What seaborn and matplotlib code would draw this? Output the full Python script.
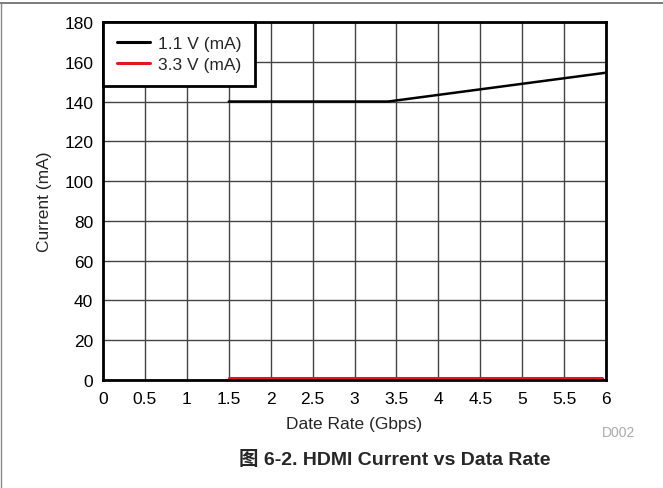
import numpy as np
import pandas as pd
import seaborn as sns
import matplotlib.pyplot as plt
from matplotlib.lines import Line2D

# Data
rate_11v = [1.5, 3.4, 6.0]
current_11v = [140, 140, 154.5]
rate_33v = [1.5, 5.95]
current_33v = [1, 1]
x_ticks = [0, 0.5, 1, 1.5, 2, 2.5, 3, 3.5, 4, 4.5, 5, 5.5, 6]
y_ticks = [0, 20, 40, 60, 80, 100, 120, 140, 160, 180]

df_11 = pd.DataFrame({"rate": rate_11v, "current": current_11v})
df_33 = pd.DataFrame({"rate": rate_33v, "current": current_33v})

sns.set_theme(style="white")
plt.rcParams['font.family'] = ['Liberation Sans', 'Noto Sans CJK SC', 'DejaVu Sans']

fs = 12.5
fig = plt.figure(figsize=(6.63, 4.89), dpi=100)
ax = fig.add_axes([0.1554, 0.2209, 0.7587, 0.7321])

sns.lineplot(data=df_11, x="rate", y="current", ax=ax, color="black", linewidth=1.8)
sns.lineplot(data=df_33, x="rate", y="current", ax=ax, color="#e8141c", linewidth=2.2)

ax.set_xlim(0, 6)
ax.set_ylim(0, 180)
ax.set_xticks(x_ticks)
ax.set_xticklabels([f"{t:g}" for t in x_ticks])
ax.set_yticks(y_ticks)
ax.grid(True, color="#444444", linewidth=1.0)
ax.set_axisbelow(True)
for s in ax.spines.values():
    s.set_color("black")
    s.set_linewidth(2)
ax.tick_params(axis="both", labelsize=fs, length=0, colors="black")
ax.tick_params(axis="x", pad=8)
ax.tick_params(axis="y", pad=7)
ax.set_xlabel("Date Rate (Gbps)", fontsize=fs, labelpad=7)
ax.set_ylabel("Current (mA)", fontsize=fs, labelpad=9)

handles = [Line2D([], [], color="black", linewidth=2.2),
           Line2D([], [], color="#e8141c", linewidth=2.2)]
leg = ax.legend(handles, ["1.1 V (mA)", "3.3 V (mA)"], loc="upper left",
                fontsize=fs, frameon=True, fancybox=False, borderaxespad=0,
                handlelength=1.9, handletextpad=0.45, borderpad=0.8,
                labelspacing=0.35, framealpha=1)
leg.get_frame().set_edgecolor("black")
leg.get_frame().set_linewidth(2)

fig.text(0.958, 0.106, "D002", fontsize=10, color="#aaaaaa", ha="right")
fig.text(0.596, 0.059, "图 6-2. HDMI Current vs Data Rate", fontsize=14,
         fontweight="bold", ha="center", va="center",
         family=['Liberation Sans', 'Noto Sans CJK SC'])

# frame lines at the top and left edge of the figure
fig.add_artist(Line2D([0, 1], [0.992, 0.992], color="#666666", linewidth=1.2))
fig.add_artist(Line2D([0.002, 0.002], [0, 0.992], color="#888888", linewidth=1))

fig.savefig("out.png", dpi=100)
